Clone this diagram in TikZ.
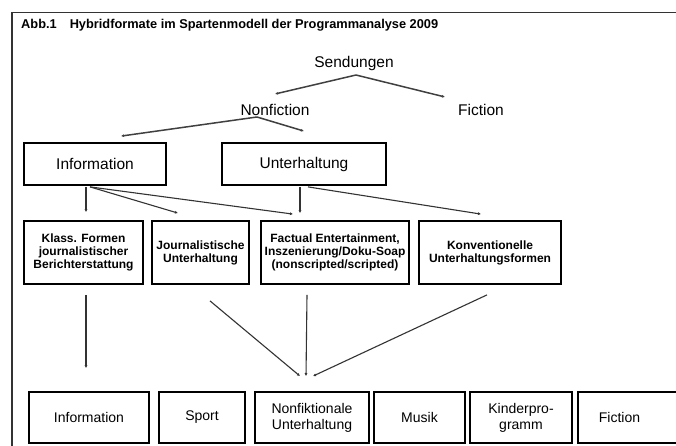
\documentclass[tikz,border=0pt]{standalone}
\usepackage{fontspec}
\setmainfont{Liberation Sans}
\usetikzlibrary{arrows.meta}
\begin{document}
\begin{tikzpicture}[x=1pt,y=-1pt,
  lbl/.style={inner sep=0pt, font=\fontsize{15.5}{17}\selectfont},
  bigbox/.style={draw=black, line width=1.8pt, inner sep=0pt, minimum height=42pt, font=\fontsize{15.5}{17}\selectfont},
  midbox/.style={draw=black, line width=1.8pt, inner sep=0pt, minimum height=63pt, align=center, font=\fontsize{12}{13}\bfseries\selectfont},
  lowbox/.style={draw=black, line width=1.8pt, inner sep=0pt, minimum height=51pt, align=center, font=\fontsize{14}{16}\selectfont},
  tree/.style={draw=black!75, line width=1.5pt, -{Latex[length=3pt,width=3pt]}},
  conn/.style={draw=black!80, line width=1.1pt, -{Latex[length=3pt,width=3pt]}}]
\useasboundingbox (0,0) rectangle (676,446);
\fill[white] (0,0) rectangle (676,446);
% frame
\draw[black!80, line width=1.1pt] (12,446) -- (12,12.5) -- (676,12.5);
\node[anchor=base west, inner sep=0pt, font=\fontsize{12.8}{14}\bfseries\selectfont] (title) at (21,29)
  {Abb.1\hspace{13pt}Hybridformate im Spartenmodell der Programmanalyse 2009};
% top tree
\node[lbl] (send) at (354,63) {Sendungen};
\node[lbl] (nonf) at (275,110) {Nonfiction};
\node[lbl] (fic) at (481,110) {Fiction};
\node[bigbox, minimum width=142pt] (info) at (95,164) {Information};
\node[bigbox, minimum width=164pt] (unt) at (304,164) {Unterhaltung};
% middle row
\node[midbox, minimum width=119pt] (klass) at (83.5,252.5) {Klass. Formen\\journalistischer\\Berichterstattung};
\node[midbox, minimum width=97pt] (journ) at (200.5,252.5) {Journalistische\\Unterhaltung};
\node[midbox, minimum width=148pt] (fact) at (335,252.5) {Factual Entertainment,\\Inszenierung/Doku-Soap\\(nonscripted/scripted)};
\node[midbox, minimum width=142pt] (konv) at (490,252.5) {Konventionelle\\Unterhaltungsformen};
% bottom row
\node[lowbox, minimum width=120pt] (info2) at (89,417.5) {Information};
\node[lowbox, minimum width=86pt] (sport) at (202,417.5) {Sport};
\node[lowbox, minimum width=114pt] (nfu) at (312,417.5) {Nonfiktionale\\Unterhaltung};
\node[lowbox, minimum width=91pt] (musik) at (419.5,417.5) {Musik};
\node[lowbox, minimum width=102pt] (kind) at (521,417.5) {Kinderpro-\\gramm};
\node[lowbox, anchor=west, minimum width=130pt, text width=130pt, align=left] (fic2) at (577,417.5) {\hspace*{21pt}Fiction};
% tree connectors
\draw[tree] ([shift={(2,12)}]send.center) -- ([shift={(0,-16)}]nonf.center);
\draw[tree] ([shift={(2,12)}]send.center) -- ([shift={(-36,-13)}]fic.center);
\draw[tree] ([shift={(-18,7)}]nonf.center) -- ([shift={(26,-6)}]info.north);
\draw[tree] ([shift={(-18,7)}]nonf.center) -- ([shift={(0,-11)}]unt.north);
% row 1 -> row 2
\draw[conn] ([shift={(-9,1)}]info.south) -- ([shift={(2.5,-8)}]klass.north);
\draw[conn] ([shift={(-5,1)}]info.south) -- ([shift={(-22.5,-7)}]journ.north);
\draw[conn] ([shift={(-5,1)}]info.south) -- ([shift={(-42,-6)}]fact.north);
\draw[conn] ([shift={(-4,1)}]unt.south) -- ([shift={(-35,-7)}]fact.north);
\draw[conn] ([shift={(4,1)}]unt.south) -- ([shift={(-9,-6)}]konv.north);
% row 2 -> row 3
\draw[conn] ([shift={(2.5,10)}]klass.south) -- ([shift={(-3,-23)}]info2.north);
\draw[conn] ([shift={(9.5,16)}]journ.south) -- ([shift={(-12,-15)}]nfu.north);
\draw[conn] ([shift={(-28,10)}]fact.south) -- ([shift={(-6,-15)}]nfu.north);
\draw[conn] ([shift={(-3,10)}]konv.south) -- ([shift={(1,-15)}]nfu.north);
\end{tikzpicture}
\end{document}
